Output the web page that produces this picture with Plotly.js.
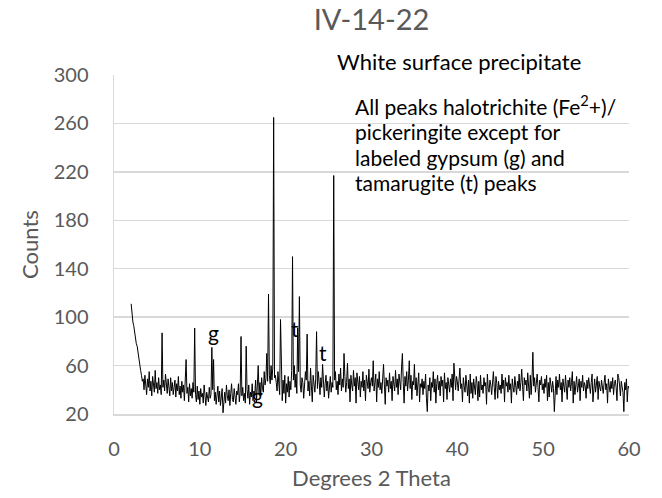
<!DOCTYPE html>
<html>
<head>
<meta charset="utf-8">
<script src="https://cdn.plot.ly/plotly-3.0.1.min.js"></script>
<style>
  html, body { margin: 0; padding: 0; background: #fff; }
  #chart { width: 662px; height: 498px; }
</style>
</head>
<body>
<div id="chart"></div>
<script>
// 2-theta scan start and step (degrees); counts, one row per degree
const scanStart = 2.0;
const scanStep = 0.1;

const counts02to10 = [
  111, 100, 96, 93, 87, 84, 78, 76, 70, 66,
  62, 56, 52, 47, 49, 40, 52, 44, 36, 49,
  42, 55, 39, 47, 35, 51, 43, 38, 56, 41,
  46, 37, 50, 40, 44, 36, 87, 42, 48, 39,
  53, 41, 37, 49, 44, 35, 50, 39, 46, 36,
  42, 48, 34, 45, 39, 51, 36, 43, 33, 47,
  38, 44, 31, 49, 65, 37, 42, 30, 45, 35,
  41, 33, 46, 38, 91, 36, 30, 43, 32, 39
];
const counts10to20 = [
  28, 41, 34, 37, 29, 44, 32, 27, 38, 35,
  30, 42, 33, 36, 75, 40, 65, 31, 38, 28,
  35, 43, 30, 39, 27, 34, 41, 21, 33, 38,
  29, 44, 35, 31, 40, 27, 37, 45, 32, 30,
  41, 34, 28, 39, 36, 45, 30, 38, 84, 35,
  42, 31, 37, 29, 76, 40, 33, 44, 28, 38,
  34, 45, 31, 39, 36, 48, 30, 43, 60, 37,
  46, 35, 50, 41, 38, 55, 44, 49, 70, 47,
  119, 52, 45, 60, 48, 58, 265, 50, 52, 46,
  39, 55, 43, 36, 98, 42, 31, 48, 37, 52
];
const counts20to30 = [
  29, 45, 38, 51, 34, 47, 40, 56, 150, 48,
  60, 42, 53, 37, 91, 55, 117, 44, 38, 50,
  46, 33, 41, 55, 48, 86, 39, 47, 35, 58,
  43, 30, 52, 45, 38, 49, 88, 41, 55, 47,
  36, 50, 42, 61, 48, 34, 45, 52, 39, 47,
  33, 44, 51, 38, 46, 42, 217, 48, 55, 40,
  47, 36, 53, 44, 58, 39, 49, 42, 70, 51,
  38, 46, 62, 41, 49, 30, 52, 44, 39, 56,
  43, 50, 29, 54, 45, 40, 51, 34, 47, 42,
  55, 39, 48, 31, 52, 44, 41, 57, 38, 46
];
const counts30to40 = [
  50, 43, 64, 39, 47, 53, 30, 49, 42, 55,
  40, 46, 37, 52, 61, 44, 28, 50, 43, 48,
  38, 54, 41, 47, 31, 51, 45, 39, 56, 42,
  49, 36, 53, 44, 40, 58, 70, 46, 29, 51,
  43, 55, 39, 48, 64, 41, 52, 32, 47, 44,
  61, 40, 50, 35, 46, 54, 30, 45, 42, 49,
  36, 47, 41, 53, 33, 22, 44, 39, 50, 31,
  46, 42, 55, 38, 49, 29, 45, 52, 40, 47,
  35, 51, 43, 48, 30, 54, 41, 46, 32, 50,
  44, 38, 49, 42, 53, 31, 62, 45, 40, 51
];
const counts40to50 = [
  47, 39, 54, 58, 41, 45, 30, 50, 43, 38,
  52, 44, 35, 48, 29, 53, 37, 46, 33, 49,
  42, 36, 51, 45, 31, 47, 34, 52, 40, 44,
  37, 50, 43, 46, 28, 53, 41, 38, 48, 44,
  36, 49, 55, 42, 32, 51, 45, 33, 47, 40,
  44, 37, 53, 41, 48, 30, 50, 43, 46, 38,
  52, 40, 45, 29, 49, 42, 38, 51, 44, 36,
  47, 41, 53, 39, 46, 57, 43, 31, 50, 44,
  48, 39, 54, 45, 33, 52, 36, 49, 71, 43,
  50, 38, 46, 53, 42, 30, 48, 44, 51, 40
];
const counts50to60 = [
  45, 37, 49, 42, 52, 31, 46, 34, 50, 43,
  38, 47, 41, 22, 44, 51, 36, 48, 42, 53,
  40, 46, 30, 49, 43, 38, 52, 45, 32, 48,
  42, 50, 39, 46, 55, 29, 47, 36, 44, 51,
  38, 45, 49, 31, 47, 42, 52, 39, 46, 43,
  33, 48, 41, 50, 44, 37, 46, 53, 30, 45,
  49, 38, 43, 51, 32, 47, 42, 39, 48, 44,
  37, 46, 52, 40, 45, 29, 49, 43, 38, 47,
  41, 50, 36, 45, 48, 42, 31, 53, 50, 44,
  35, 47, 42, 38, 22, 46, 40, 49, 30, 43,
  41
];

const counts = [].concat(counts02to10, counts10to20, counts20to30,
                         counts30to40, counts40to50, counts50to60);

// peak labels: text, 2-theta, counts
const peakLabelText = ['g', 'g', 't', 't'];
const peakLabelX = [11.55, 16.7, 21.1, 24.35];
const peakLabelY = [87, 35, 91, 71];

const xTicks = [0, 10, 20, 30, 40, 50, 60];
const yTicks = [20, 60, 100, 140, 180, 220, 260, 300];

const chartTitle = 'IV-14-22';
const xTitle = 'Degrees 2 Theta';
const yTitle = 'Counts';
const noteTop = 'White surface precipitate';
const noteLines = [
  'All peaks halotrichite (Fe<sup>2</sup>+)/',
  'pickeringite except for',
  'labeled gypsum (g) and',
  'tamarugite (t) peaks'
];

const FONT = 'Lato, "Open Sans", sans-serif';
const GRAY = '#595959';

const trace = {
  type: 'scatter',
  mode: 'lines',
  x0: scanStart,
  dx: scanStep,
  y: counts,
  line: { color: '#000000', width: 1 },
  hoverinfo: 'skip',
  showlegend: false
};

const annotations = [];
for (let i = 0; i < peakLabelText.length; i++) {
  annotations.push({
    xref: 'x', yref: 'y', x: peakLabelX[i], y: peakLabelY[i],
    text: peakLabelText[i], showarrow: false,
    font: { family: FONT, size: 21, color: '#000' },
    xanchor: 'center', yanchor: 'middle'
  });
}
annotations.push({
  xref: 'paper', yref: 'paper', x: 0.43, y: 1.04,
  text: noteTop, showarrow: false, xanchor: 'left', yanchor: 'middle',
  font: { family: FONT, size: 22, color: '#000' }
});
const noteY = [0.912, 0.834, 0.757, 0.682];
for (let i = 0; i < noteLines.length; i++) {
  annotations.push({
    xref: 'paper', yref: 'paper', x: 0.465, y: noteY[i],
    text: noteLines[i], showarrow: false, xanchor: 'left', yanchor: 'middle',
    font: { family: FONT, size: 21, color: '#000' }
  });
}

const layout = {
  width: 662, height: 498,
  margin: { l: 114, r: 33, t: 75, b: 84 },
  paper_bgcolor: '#ffffff', plot_bgcolor: '#ffffff',
  font: { family: FONT, color: GRAY },
  title: {
    text: chartTitle, x: 0.5, xref: 'paper', y: 0.96, yanchor: 'middle',
    font: { family: FONT, size: 29, color: GRAY }
  },
  xaxis: {
    range: [0, 60], tickvals: xTicks, ticktext: xTicks.map(String),
    showgrid: false, zeroline: false,
    showline: true, linecolor: '#d9d9d9', linewidth: 1.5,
    ticks: '', ticklabelstandoff: 16,
    tickfont: { family: FONT, size: 20, color: GRAY },
    title: { text: xTitle, standoff: 12, font: { family: FONT, size: 22, color: GRAY } }
  },
  yaxis: {
    range: [20, 300], tickvals: yTicks, ticktext: yTicks.map(String),
    showgrid: true, gridcolor: '#d9d9d9', gridwidth: 1.5, zeroline: false,
    showline: true, linecolor: '#d9d9d9', linewidth: 1.5,
    ticks: '', ticklabelstandoff: 20,
    tickfont: { family: FONT, size: 20, color: GRAY },
    title: { text: yTitle, standoff: 9, font: { family: FONT, size: 22, color: GRAY } }
  },
  annotations: annotations
};

Plotly.newPlot('chart', [trace], layout, { staticPlot: true, displayModeBar: false });
</script>
</body>
</html>
